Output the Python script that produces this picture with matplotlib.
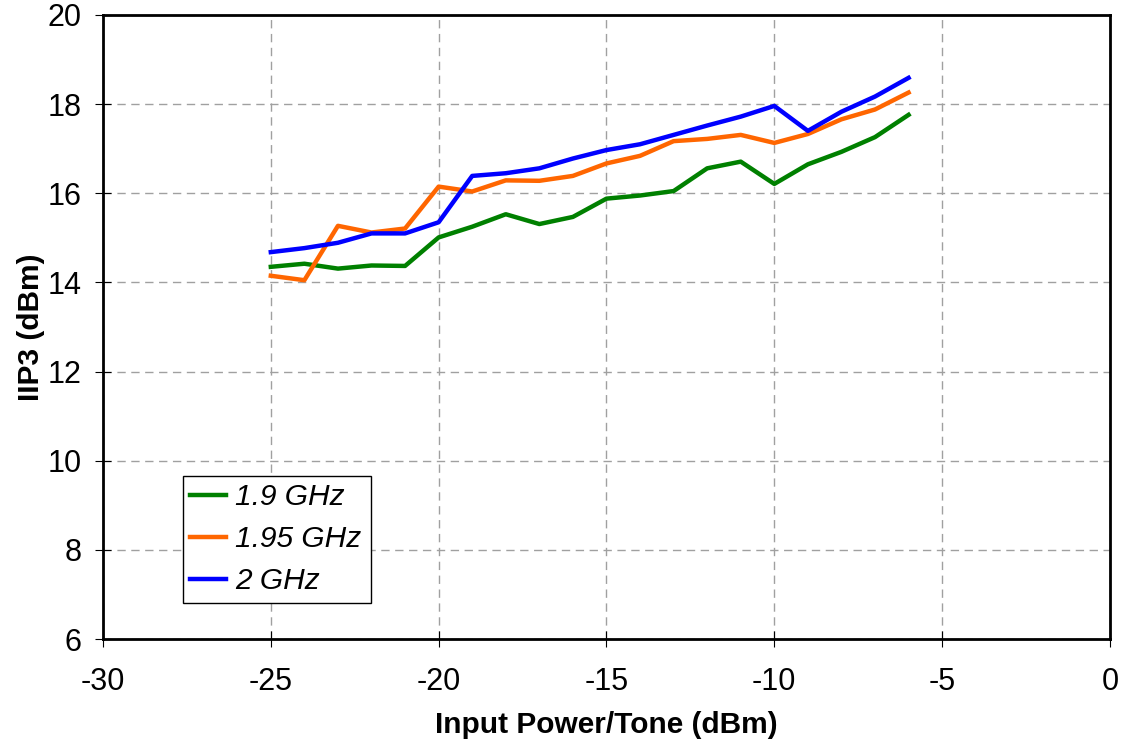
import matplotlib

matplotlib.use("Agg")
import matplotlib.pyplot as plt

# Input power per tone (dBm)
pin = [-25, -24, -23, -22, -21, -20, -19, -18, -17, -16,
       -15, -14, -13, -12, -11, -10, -9, -8, -7, -6]

# IIP3 (dBm) per frequency
iip3_19 = [14.35, 14.42, 14.31, 14.38, 14.37, 15.01, 15.25, 15.53, 15.31, 15.47,
           15.88, 15.95, 16.05, 16.56, 16.71, 16.21, 16.65, 16.93, 17.26, 17.76]
iip3_195 = [14.15, 14.05, 15.27, 15.12, 15.21, 16.15, 16.04, 16.29, 16.28, 16.39,
            16.67, 16.84, 17.17, 17.22, 17.31, 17.13, 17.33, 17.66, 17.88, 18.26]
iip3_20 = [14.68, 14.77, 14.89, 15.10, 15.10, 15.35, 16.39, 16.45, 16.56, 16.78,
           16.97, 17.10, 17.31, 17.52, 17.72, 17.96, 17.40, 17.83, 18.17, 18.59]

series = [
    ("1.9 GHz", iip3_19, "#008000"),
    ("1.95 GHz", iip3_195, "#FF6600"),
    ("2 GHz", iip3_20, "#0000FF"),
]

plt.rcParams.update({
    "font.family": ["Liberation Sans", "DejaVu Sans"],
    "font.size": 22,
    "axes.unicode_minus": False,
})

fig = plt.figure(figsize=(11.23, 7.46), dpi=100)
ax = fig.add_axes([0.0917, 0.1434, 0.8967, 0.8365])

for label, values, color in series:
    ax.plot(pin, values, color=color, linewidth=3.2, label=label)

ax.set_xlim(-30, 0)
ax.set_ylim(6, 20)
ax.set_xticks(range(-30, 1, 5))
ax.set_yticks(range(6, 21, 2))
ax.grid(True, color="#A0A0A0", linestyle=(0, (6, 4)), linewidth=1.0)
ax.set_axisbelow(True)

for spine in ax.spines.values():
    spine.set_linewidth(2.0)
    spine.set_color("black")
ax.tick_params(direction="inout", length=11, width=0.8, labelsize=22)
ax.tick_params(axis="x", pad=15)
ax.tick_params(axis="y", pad=10)

ax.set_xlabel("Input Power/Tone (dBm)", fontsize=21.5, fontweight="bold", labelpad=10)
ax.set_ylabel("IIP3 (dBm)", fontsize=21.5, fontweight="bold", labelpad=2)

leg = ax.legend(loc="lower left", bbox_to_anchor=(0.079, 0.058, 0.187, 0.197),
                mode="expand", prop={"style": "italic", "size": 21.5},
                frameon=True, fancybox=False, framealpha=1.0,
                edgecolor="black", handlelength=1.2, handletextpad=0.3,
                labelspacing=0.47, borderaxespad=0.0, borderpad=0.25)
leg.get_frame().set_linewidth(1.0)

fig.savefig("out.png", dpi=100)
